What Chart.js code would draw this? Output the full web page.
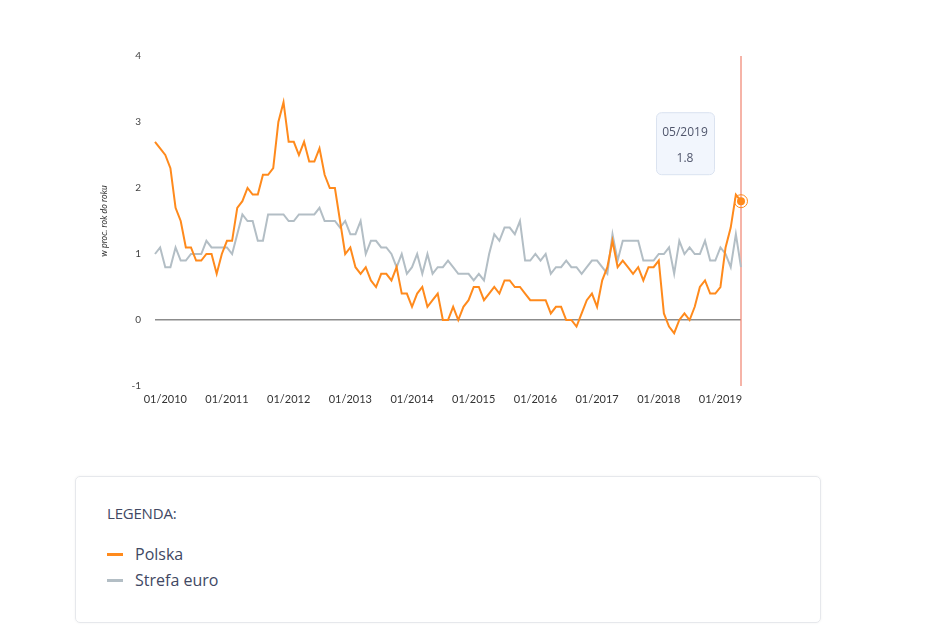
<!DOCTYPE html>
<html>
<head>
<meta charset="utf-8">
<script src="https://cdn.jsdelivr.net/npm/chart.js@4.4.1/dist/chart.umd.min.js"></script>
<style>
  body { margin: 0; background: #fff; width: 945px; height: 641px; overflow: hidden; font-family: "Open Sans", sans-serif; }
  #wrap { position: absolute; left: 95px; top: 36px; width: 660px; height: 379px; }
  #legend { position: absolute; left: 75px; top: 476px; width: 746px; height: 147px; box-sizing: border-box;
    border: 1px solid #e6e8ec; border-radius: 5px; box-shadow: 0 0 3px rgba(0,0,0,0.05); color: #414863; }
  #legend .title { position: absolute; left: 31px; top: 26px; font-size: 15px; letter-spacing: -0.2px; }
  #legend .item { position: absolute; left: 31px; font-size: 16px; }
  #legend .item span { display: inline-block; width: 16px; height: 3px; vertical-align: middle; margin-right: 12px; position: relative; top: -1px; }
</style>
</head>
<body>
<div id="wrap"><canvas id="chart"></canvas></div>
<div id="legend">
  <div class="title">LEGENDA:</div>
  <div class="item" style="top:66px"><span style="background:#ff8a1c"></span>Polska</div>
  <div class="item" style="top:92px"><span style="background:#b3bec5"></span>Strefa euro</div>
</div>
<script>
// monthly, 11/2009 .. 05/2019
const startYear = 2009, startMonth = 11, count = 115;
const months = [];
for (let i = 0; i < count; i++) {
  const m = (startMonth - 1 + i) % 12 + 1;
  const y = startYear + Math.floor((startMonth - 1 + i) / 12);
  months.push((m < 10 ? "0" + m : "" + m) + "/" + y);
}

const polska = [
  2.7,2.6,2.5,2.3,1.7,1.5,1.1,1.1,0.9,0.9,
  1.0,1.0,0.7,1.0,1.2,1.2,1.7,1.8,2.0,1.9,
  1.9,2.2,2.2,2.3,3.0,3.3,2.7,2.7,2.5,2.7,
  2.4,2.4,2.6,2.2,2.0,2.0,1.5,1.0,1.1,0.8,
  0.7,0.8,0.6,0.5,0.7,0.7,0.6,0.8,0.4,0.4,
  0.2,0.4,0.5,0.2,0.3,0.4,0.0,0.0,0.2,0.0,
  0.2,0.3,0.5,0.5,0.3,0.4,0.5,0.4,0.6,0.6,
  0.5,0.5,0.4,0.3,0.3,0.3,0.3,0.1,0.2,0.2,
  0.0,0.0,-0.1,0.1,0.3,0.4,0.2,0.6,0.8,1.2,
  0.8,0.9,0.8,0.7,0.8,0.6,0.8,0.8,0.9,0.1,
  -0.1,-0.2,0.0,0.1,0.0,0.2,0.5,0.6,0.4,0.4,
  0.5,1.1,1.4,1.9,1.8
];

const strefaEuro = [
  1.0,1.1,0.8,0.8,1.1,0.9,0.9,1.0,1.0,1.0,
  1.2,1.1,1.1,1.1,1.1,1.0,1.3,1.6,1.5,1.5,
  1.2,1.2,1.6,1.6,1.6,1.6,1.5,1.5,1.6,1.6,
  1.6,1.6,1.7,1.5,1.5,1.5,1.4,1.5,1.3,1.3,
  1.5,1.0,1.2,1.2,1.1,1.1,1.0,0.8,1.0,0.7,
  0.8,1.0,0.7,1.0,0.7,0.8,0.8,0.9,0.8,0.7,
  0.7,0.7,0.6,0.7,0.6,1.0,1.3,1.2,1.4,1.4,
  1.3,1.5,0.9,0.9,1.0,0.9,1.0,0.7,0.8,0.8,
  0.9,0.8,0.8,0.7,0.8,0.9,0.9,0.8,0.7,1.3,
  0.9,1.2,1.2,1.2,1.2,0.9,0.9,0.9,1.0,1.0,
  1.1,0.7,1.2,1.0,1.1,1.0,1.0,1.2,0.9,0.9,
  1.1,1.0,0.8,1.3,0.8
];

const yTicks = [-1, 0, 1, 2, 3, 4];
const last = count - 1;

const hoverPlugin = {
  id: "hover",
  beforeDatasetsDraw(chart) {
    const pt = chart.getDatasetMeta(0).data[last];
    const ctx = chart.ctx, area = chart.chartArea;
    ctx.save();
    ctx.strokeStyle = "#f0826e";
    ctx.lineWidth = 1.2;
    ctx.beginPath();
    ctx.moveTo(pt.x, area.top);
    ctx.lineTo(pt.x, area.bottom);
    ctx.stroke();
    ctx.restore();
  },
  afterDatasetsDraw(chart) {
    const pt = chart.getDatasetMeta(0).data[last];
    const ctx = chart.ctx;
    ctx.save();
    ctx.strokeStyle = "#ff8a1c";
    ctx.lineWidth = 1;
    ctx.beginPath();
    ctx.arc(pt.x, pt.y, 6.5, 0, Math.PI * 2);
    ctx.stroke();
    // tooltip box
    const w = 58, h = 62, bx = pt.x - 85, by = pt.y - 89;
    ctx.fillStyle = "#f2f6fd";
    ctx.strokeStyle = "#dbe3f0";
    ctx.beginPath();
    ctx.roundRect(bx + 0.5, by + 0.5, w, h, 5);
    ctx.fill();
    ctx.stroke();
    ctx.fillStyle = "#50566c";
    ctx.font = "12px 'Open Sans'";
    ctx.textAlign = "center";
    ctx.textBaseline = "middle";
    ctx.fillText(months[last], bx + w / 2, by + 20);
    ctx.fillText(polska[last].toFixed(1), bx + w / 2, by + 46);
    ctx.restore();
  }
};

new Chart(document.getElementById("chart"), {
  type: "line",
  data: {
    labels: months,
    datasets: [{
      label: "Polska",
      data: polska,
      borderColor: "#ff8a1c",
      backgroundColor: "#ff8a1c",
      borderWidth: 2,
      tension: 0,
      pointRadius: c => c.dataIndex === last ? 4 : 0,
      pointBorderWidth: 0
    }, {
      label: "Strefa euro",
      data: strefaEuro,
      borderColor: "#b3bec5",
      borderWidth: 2,
      tension: 0,
      pointRadius: 0
    }]
  },
  options: {
    responsive: true,
    maintainAspectRatio: false,
    animation: false,
    layout: { padding: { top: 0, right: 14, left: 0, bottom: 0 } },
    plugins: { legend: { display: false }, tooltip: { enabled: false } },
    events: [],
    scales: {
      x: {
        grid: { display: false, drawTicks: false },
        border: { display: false },
        afterFit: s => { s.height = 29; },
        ticks: {
          autoSkip: false,
          maxRotation: 0,
          padding: 7,
          color: "#333",
          font: { family: "Lato", size: 11 },
          callback: function(v, i) {
            const l = months[i];
            return l.startsWith("01/") ? l : null;
          }
        }
      },
      y: {
        min: yTicks[0],
        max: yTicks[yTicks.length - 1],
        afterFit: s => { s.width = 60; },
        afterBuildTicks: s => { s.ticks = yTicks.map(v => ({ value: v })); },
        border: { display: false },
        grid: {
          drawTicks: false,
          color: c => c.tick && c.tick.value === 0 ? "#8c8c8c" : "rgba(0,0,0,0)",
          lineWidth: 1.5
        },
        ticks: { padding: 14, color: "#444", font: { family: "Lato", size: 10 } },
        title: {
          display: true,
          text: "w proc. rok do roku",
          color: "#333",
          font: { family: "Lato", size: 9, style: "italic" },
          padding: { top: 4, bottom: 4 }
        }
      }
    }
  },
  plugins: [hoverPlugin]
});
</script>
</body>
</html>
